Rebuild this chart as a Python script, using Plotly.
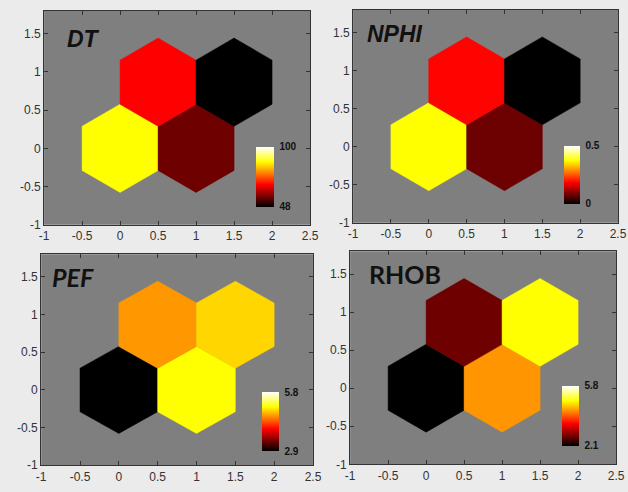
import numpy as np
import plotly.graph_objects as go
from plotly.colors import sample_colorscale

W, H = 628, 492

# SOM node centres on a 2x2 hexagonal lattice
node_x = [0.0, 1.0, 0.5, 1.5]
node_y = [0.0, 0.0, 0.866, 0.866]

# component-plane values per node
dt_vals = [87.0, 56.5, 67.5, 48.0]
nphi_vals = [0.375, 0.08, 0.19, 0.0]
pef_vals = [2.9, 5.08, 4.63, 4.90]
rhob_vals = [2.1, 4.30, 2.70, 4.88]

# colour limits shown on each colorbar
dt_lim = [48, 100]
nphi_lim = [0, 0.5]
pef_lim = [2.9, 5.8]
rhob_lim = [2.1, 5.8]

dt_ticks = ["48", "100"]
nphi_ticks = ["0", "0.5"]
pef_ticks = ["2.9", "5.8"]
rhob_ticks = ["2.1", "5.8"]

names = ["DT", "NPHI", "PEF", "RHOB"]
x_ticks = [-1, -0.5, 0, 0.5, 1, 1.5, 2, 2.5]
x_tick_text = ["-1", "-0.5", "0", "0.5", "1", "1.5", "2", "2.5"]
y_ticks = [-1, -0.5, 0, 0.5, 1, 1.5]
y_tick_text = ["-1", "-0.5", "0", "0.5", "1", "1.5"]

# MATLAB-style "hot" colormap
hot = [[0.0, "rgb(0,0,0)"], [0.375, "rgb(255,0,0)"],
       [0.75, "rgb(255,255,0)"], [1.0, "rgb(255,255,255)"]]

# panel boxes in pixels: (left, top, right, bottom)
panels = [(40, 11, 312, 228), (356, 10, 627, 226),
          (37, 258, 315, 472), (353, 255, 625, 471)]
# colorbar boxes in pixels
cbars = [(257, 149, 275, 210), (572, 148, 588, 207),
         (263, 398, 280, 458), (570, 391, 587, 452)]
# label anchor (data coords) and font per panel
label_pos = [(-0.72, 1.43), (-0.84, 1.48), (-0.88, 1.50), (-0.78, 1.50)]
label_font = [
    dict(family="Liberation Sans", size=23, color="#111", weight="bold", style="italic"),
    dict(family="Liberation Sans", size=23, color="#111", weight="bold", style="italic"),
    dict(family="Lato", size=25, color="#111", weight="bold", style="italic"),
    dict(family="Lato", size=25, color="#111", weight="bold"),
]

vals_all = [dt_vals, nphi_vals, pef_vals, rhob_vals]
lims_all = [dt_lim, nphi_lim, pef_lim, rhob_lim]
ticks_all = [dt_ticks, nphi_ticks, pef_ticks, rhob_ticks]

r = 1 / np.sqrt(3)
ang = np.deg2rad(np.arange(90, 90 + 361, 60))

fig = go.Figure()
layout = dict(
    width=W, height=H, margin=dict(l=0, r=0, t=0, b=0),
    paper_bgcolor="#ebebeb", showlegend=False,
    font=dict(family="Liberation Sans", size=12, color="#333"),
    annotations=[], shapes=[],
)

for i in range(4):
    sfx = "" if i == 0 else str(i + 1)
    xa, ya = "x" + sfx, "y" + sfx
    vals, lims = vals_all[i], lims_all[i]
    fracs = [(v - lims[0]) / (lims[1] - lims[0]) for v in vals]
    cols = sample_colorscale(hot, fracs)

    for cx, cy, c in zip(node_x, node_y, cols):
        fig.add_trace(go.Scatter(
            x=cx + r * np.cos(ang), y=cy + r * np.sin(ang),
            mode="lines", fill="toself", fillcolor=c,
            line=dict(color=c, width=0.5), hoverinfo="skip",
            xaxis=xa, yaxis=ya))

    # node markers carry the colour axis (and thus the colorbar)
    fig.add_trace(go.Scatter(
        x=node_x, y=node_y, mode="markers",
        marker=dict(color=vals, coloraxis="coloraxis" + sfx, size=1, opacity=0),
        xaxis=xa, yaxis=ya, hoverinfo="skip"))

    l, t, rr, b = panels[i]
    axis_common = dict(showgrid=False, zeroline=False, showline=True,
                       linecolor="#333", linewidth=1, mirror="ticks",
                       ticks="inside", ticklen=4, tickcolor="#333",
                       tickfont=dict(size=12, color="#333"))
    layout["xaxis" + sfx] = dict(domain=[l / W, rr / W], range=[-1, 2.5],
                                 tickvals=x_ticks, ticktext=x_tick_text,
                                 anchor=ya, **axis_common)
    layout["yaxis" + sfx] = dict(domain=[1 - b / H, 1 - t / H], range=[-1, 1.8],
                                 tickvals=y_ticks, ticktext=y_tick_text,
                                 anchor=xa, **axis_common)

    cx0, cy0, cx1, cy1 = cbars[i]
    layout["coloraxis" + sfx] = dict(
        colorscale=hot, cmin=lims[0], cmax=lims[1],
        colorbar=dict(
            x=cx0 / W, xanchor="left", xpad=0, ypad=0,
            y=1 - (cy0 + cy1) / 2 / H, yanchor="middle",
            len=(cy1 - cy0) / H, lenmode="fraction",
            thickness=cx1 - cx0, thicknessmode="pixels",
            outlinewidth=0, tickvals=lims, ticktext=ticks_all[i],
            ticks="outside", ticklen=4, tickcolor="rgba(0,0,0,0)",
            tickfont=dict(family="Liberation Sans", size=10, color="#111",
                          weight="bold")))

    lx, ly = label_pos[i]
    layout["annotations"].append(dict(
        x=lx, y=ly, xref=xa, yref=ya, text=names[i], showarrow=False,
        xanchor="left", yanchor="middle", font=label_font[i]))

    # plot-area background
    layout["shapes"].append(dict(
        type="rect", xref=xa + " domain", yref=ya + " domain",
        x0=0, x1=1, y0=0, y1=1, fillcolor="#7f7f7f", line_width=0,
        layer="below"))

fig.update_layout(**layout)
fig.write_html("out.html")
